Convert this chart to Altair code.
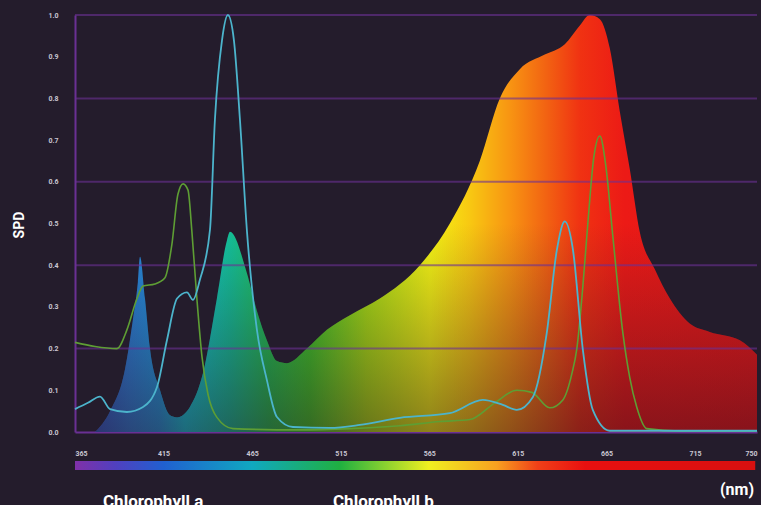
import altair as alt
import pandas as pd

# LED spectrum (SPD)
led_nm = [376.3, 384.8, 393.2, 397.7, 400.5, 401.7, 404.5, 407.3, 413.0, 418.6, 422.6,
          429.9, 437.2, 445.1, 450.8, 452.5, 462.1, 467.7, 473.3, 479.0, 484.6, 495.9,
          507.2, 520.2, 537.1, 559.7, 576.6, 593.5, 604.8, 616.1, 630.2, 641.5, 650.0,
          655.6, 661.3, 666.9, 672.5, 678.2, 683.8, 692.3, 700.8, 712.0, 723.3, 740.3, 750.0]
led_val = [0.0, 0.05, 0.15, 0.27, 0.36, 0.42, 0.32, 0.2, 0.1, 0.04, 0.035,
           0.06, 0.14, 0.32, 0.46, 0.48, 0.38, 0.29, 0.22, 0.17, 0.165, 0.2,
           0.245, 0.28, 0.32, 0.4, 0.5, 0.65, 0.8, 0.87, 0.905, 0.93, 0.975,
           1.0, 0.99, 0.92, 0.77, 0.63, 0.48, 0.39, 0.32, 0.26, 0.24, 0.22, 0.185]

# Chlorophyll a (green line)
chla_nm = [365.0, 376.3, 388.7, 394.3, 400.0, 403.4, 410.1, 415.8, 419.7, 423.1, 426.0,
           428.8, 431.0, 433.8, 436.7, 440.1, 445.1, 454.2, 492.0, 520.2, 548.4, 571.0,
           587.9, 602.0, 614.4, 622.9, 633.0, 640.4, 645.5, 648.3, 651.7, 654.5, 657.9,
           661.3, 664.6, 668.6, 674.2, 678.2, 682.1, 687.8, 706.4, 750.0]
chla_val = [0.215, 0.205, 0.2, 0.245, 0.32, 0.35, 0.355, 0.37, 0.45, 0.57, 0.595,
            0.58, 0.48, 0.32, 0.18, 0.09, 0.035, 0.008, 0.005, 0.008, 0.015, 0.025,
            0.03, 0.07, 0.1, 0.095, 0.058, 0.077, 0.14, 0.2, 0.35, 0.5, 0.66,
            0.71, 0.64, 0.47, 0.24, 0.13, 0.06, 0.008, 0.002, 0.002]

# Chlorophyll b (teal line)
chlb_nm = [365.0, 372.3, 379.1, 384.8, 394.3, 403.4, 411.3, 416.9, 422.6, 428.2, 431.6,
           435.5, 441.2, 444.0, 448.0, 451.3, 454.7, 458.1, 462.1, 467.7, 473.3, 479.0,
           488.0, 508.9, 525.8, 548.4, 576.6, 595.2, 606.5, 614.4, 623.5, 631.3, 637.0,
           641.5, 646.0, 651.7, 657.3, 666.9, 750.0]
chlb_val = [0.055, 0.07, 0.085, 0.055, 0.048, 0.06, 0.108, 0.22, 0.32, 0.335, 0.317,
            0.365, 0.485, 0.75, 0.94, 1.0, 0.94, 0.75, 0.48, 0.245, 0.125, 0.036,
            0.012, 0.01, 0.017, 0.034, 0.045, 0.077, 0.065, 0.053, 0.084, 0.237, 0.436,
            0.505, 0.44, 0.197, 0.053, 0.003, 0.003]

x_ticks = [365, 415, 465, 515, 565, 615, 665, 715, 750]
y_ticks = [0.0, 0.1, 0.2, 0.3, 0.4, 0.5, 0.6, 0.7, 0.8, 0.9, 1.0]
grid_vals = [0.2, 0.4, 0.6, 0.8, 1.0]
legend_names = ["Chlorophyll a", "Chlorophyll b"]

W, H = 682, 417
BG = "#241c2c"
GRID = "#6a3094"
LABEL = "#c9c6d2"
FONT = "Roboto"

led = pd.DataFrame({"nm": led_nm, "spd": led_val})
chla = pd.DataFrame({"nm": chla_nm, "spd": chla_val})
chlb = pd.DataFrame({"nm": chlb_nm, "spd": chlb_val})
grid = pd.DataFrame({"g": grid_vals})

xs = alt.Scale(domain=[365, 750], nice=False, zero=False)
ys = alt.Scale(domain=[0, 1], nice=False)

x_axis = alt.Axis(values=x_ticks, title=None, ticks=False, labelPadding=17,
                  labelColor=LABEL, labelFontSize=7, labelFontWeight="bold",
                  labelFont=FONT, domainColor=GRID, domainWidth=2, grid=False)
y_axis = alt.Axis(values=y_ticks, format=".1f", title=None, ticks=False, labelPadding=17,
                  labelColor=LABEL, labelFontSize=7, labelFontWeight="bold",
                  labelFont=FONT, domainColor=GRID, domainWidth=2, grid=False)

def stop(c, o):
    return alt.GradientStop(color=c, offset=o)

spec_grad = alt.Gradient(gradient="linear", x1=0, x2=1, y1=0, y2=0, stops=[
    stop("#2f5cc8", 0.0), stop("#2a80d8", 0.053), stop("#2098dc", 0.098),
    stop("#12c8d8", 0.136), stop("#14c098", 0.204), stop("#22c050", 0.264),
    stop("#40c828", 0.325), stop("#a8e014", 0.41), stop("#f4f414", 0.506),
    stop("#f8c812", 0.566), stop("#f89412", 0.627), stop("#f26412", 0.68),
    stop("#f03212", 0.733), stop("#ec1a16", 0.80), stop("#e81818", 1.0)])

dark_grad = alt.Gradient(gradient="linear", x1=0, x2=0, y1=0, y2=1, stops=[
    stop("rgba(36,20,40,0)", 0.0), stop("rgba(36,20,40,0)", 0.5),
    stop("rgba(40,14,30,0.5)", 1.0)])

bar_grad = alt.Gradient(gradient="linear", x1=0, x2=1, y1=0, y2=0, stops=[
    stop("#8030a8", 0.0), stop("#5040c0", 0.06), stop("#2060d0", 0.13),
    stop("#10a8c0", 0.26), stop("#20b040", 0.39), stop("#f0f020", 0.52),
    stop("#f8a020", 0.62), stop("#f04018", 0.68), stop("#e81010", 0.75),
    stop("#d81010", 1.0)])

X = alt.X("nm:Q", scale=xs, axis=x_axis)
Y = alt.Y("spd:Q", scale=ys, axis=y_axis)

area = alt.Chart(led).mark_area(color=spec_grad, interpolate="monotone").encode(x=X, y=Y)
shade = alt.Chart(led).mark_area(color=dark_grad, interpolate="monotone").encode(
    x=alt.X("nm:Q", scale=xs), y=alt.Y("spd:Q", scale=ys))

grid_rules = alt.Chart(grid).mark_rule(color=GRID, strokeWidth=2, opacity=0.6).encode(
    y=alt.Y("g:Q", scale=ys))

line_a = alt.Chart(chla).mark_line(color="#5e9e34", strokeWidth=1.6, interpolate="monotone").encode(
    x=alt.X("nm:Q", scale=xs), y=alt.Y("spd:Q", scale=ys))
line_b = alt.Chart(chlb).mark_line(color="#4cb4cc", strokeWidth=1.8, interpolate="monotone").encode(
    x=alt.X("nm:Q", scale=xs), y=alt.Y("spd:Q", scale=ys))

one = alt.Data(values=[{"a": 1}])
bar = alt.Chart(one).mark_rect(color=bar_grad).encode(
    x=alt.X(datum=365, scale=xs), x2=alt.X2(datum=749),
    y=alt.value(H + 29), y2=alt.value(H + 38))

spd_txt = alt.Chart(one).mark_text(text="SPD", angle=270, font=FONT,
                                   fontWeight="bold", fontSize=14, color="#ffffff").encode(
    x=alt.value(-55), y=alt.value(210))
nm_txt = alt.Chart(one).mark_text(text="(nm)", font=FONT, fontWeight="bold",
                                  fontSize=16, color="#ffffff").encode(
    x=alt.value(662), y=alt.value(H + 58))
leg_a = alt.Chart(one).mark_text(text=legend_names[0], font=FONT, fontWeight="bold",
                                 fontSize=17, color="#ffffff", align="left", baseline="top").encode(
    x=alt.value(28), y=alt.value(H + 62))
leg_b = alt.Chart(one).mark_text(text=legend_names[1], font=FONT, fontWeight="bold",
                                 fontSize=17, color="#ffffff", align="left", baseline="top").encode(
    x=alt.value(258), y=alt.value(H + 62))

chart = alt.layer(area, shade, grid_rules, line_a, line_b, bar, spd_txt, nm_txt, leg_a, leg_b).properties(
    width=W, height=H, background=BG,
    autosize=alt.AutoSizeParams(type="none"),
    padding={"left": 75, "top": 15, "right": 4, "bottom": 73},
).configure_view(stroke=None)

chart.save("out.html", embed_options={"renderer": "svg", "actions": False})
